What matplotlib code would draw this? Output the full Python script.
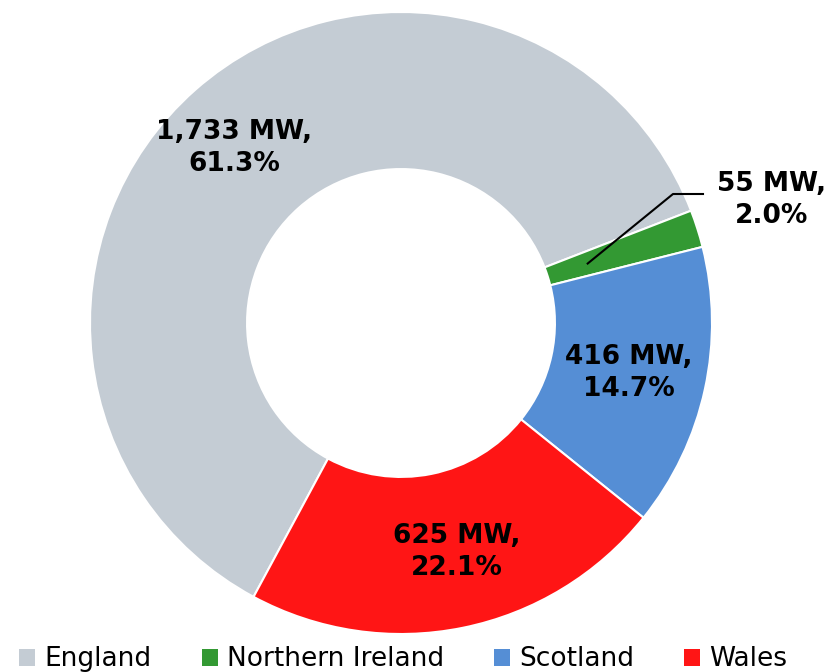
import numpy as np
import matplotlib
matplotlib.use('Agg')
import matplotlib.pyplot as plt
from matplotlib.patches import Patch

regions = ['England', 'Northern Ireland', 'Scotland', 'Wales']
capacity_mw = [1733, 55, 416, 625]
share_pct = [61.3, 2.0, 14.7, 22.1]
colors = ['#C4CCD4', '#339933', '#558ED5', '#FF1515']

fig = plt.figure(figsize=(8.37, 6.72), dpi=100)
ax = fig.add_axes([0, 0, 1, 1])

# centre (401, 323) px, outer radius 311 px
R = 311.0
cx, cy = 401.0, 323.0
W, H = 837.0, 672.0

start = 241.7
wedges, _ = ax.pie(capacity_mw, colors=colors, startangle=start, counterclock=False,
                   radius=1.0, wedgeprops=dict(width=0.505, edgecolor='white', linewidth=1.5))
ax.set_xlim(-cx / R, (W - cx) / R)
ax.set_ylim(-(H - cy) / R, cy / R)
ax.set_aspect('equal')
ax.axis('off')

for i, w in enumerate(wedges):
    mid = np.deg2rad((w.theta1 + w.theta2) / 2)
    txt = '{:,} MW,\n{:.1f}%'.format(capacity_mw[i], share_pct[i])
    if regions[i] == 'Northern Ireland':
        x0, y0 = 0.63 * np.cos(mid), 0.63 * np.sin(mid)
        x1, y1 = (673 - cx) / R, (cy - 194) / R
        x2 = (703 - cx) / R
        ax.plot([x0, x1, x2], [y0, y1, y1], color='black', lw=1.5)
        ax.text((772 - cx) / R, (cy - 200) / R, txt, ha='center', va='center',
                fontsize=19, fontweight='bold', linespacing=1.3)
    else:
        r = 0.75
        dx = {'England': -0.04, 'Wales': 0.03}.get(regions[i], 0)
        ax.text(r * np.cos(mid) + dx, r * np.sin(mid), txt, ha='center', va='center',
                fontsize=19, fontweight='bold', linespacing=1.3)

handles = [Patch(facecolor=c, label=l) for c, l in zip(colors, regions)]
fig.legend(handles=handles, loc='lower center', ncol=4, frameon=False,
           fontsize=19, bbox_to_anchor=(0.482, -0.036), handlelength=0.6, handleheight=0.6,
           handletextpad=0.35, columnspacing=1.9)

fig.savefig('out.png', dpi=100)
